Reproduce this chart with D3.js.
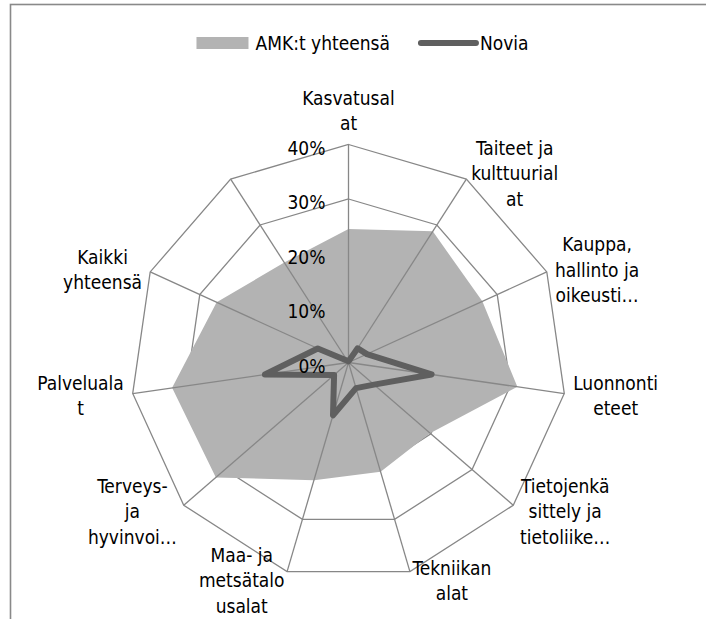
<!DOCTYPE html>
<html>
<head>
<meta charset="utf-8">
<script src="https://cdn.jsdelivr.net/npm/d3@7"></script>
<style>
body{margin:0;background:#fff}
text{font-family:"DejaVu Sans Condensed","Liberation Sans Narrow",sans-serif;font-size:19px;fill:#000}
</style>
</head>
<body>
<svg id="chart"></svg>
<script>
// category labels as Excel wrapped them (last axis has no label)
let categories = [["Kasvatusal","at"],["Taiteet ja","kulttuurial","at"],["Kauppa,","hallinto ja","oikeusti…"],["Luonnonti","eteet"],["Tietojenkä","sittely ja","tietoliike…"],["Tekniikan","alat"],["Maa- ja","metsätalo","usalat"],["Terveys-","ja","hyvinvoi…"],["Palveluala","t"],["Kaikki","yhteensä"],[]];
let amk = [24.5,28.6,27,31.3,19.8,20.9,22.5,32.2,32.7,26.6,21.8];
let novia = [0.2,3.1,3.7,15.4,6.2,4.9,10.1,3.5,15.5,6.2,0.4];
let ticks = [0,10,20,30,40];
let seriesNames = ["AMK:t yhteensä","Novia"];

width = 706;
height = 619;
cx = 348.5;
cy = 362.5;
R = 218;
n = categories.length;
lineH = 25.5;
gridColor = "#878787";
fillColor = "#b3b3b3";
lineColor = "#5f5f5f";

r = d3.scaleLinear().domain([0, 40]).range([0, R]);
angle = d3.scaleLinear().domain([0, n]).range([0, 2 * Math.PI]);

svg = d3.select('#chart').attr('width', width).attr('height', height);

// frame of the chart area (runs off the right and bottom)
svg.append("rect")
    .attr("x", 10.5).attr("y", 4.5)
    .attr("width", 800).attr("height", 800)
    .attr("fill", "none")
    .attr("stroke", "#898989")
    .attr("stroke-width", 1.6);

g = svg.append("g").attr("transform", `translate(${cx},${cy})`);

radial = d3.lineRadial()
    .angle((d, i) => angle(i))
    .radius(d => r(d))
    .curve(d3.curveLinearClosed);

// rings
g.append("g")
    .selectAll("path")
    .data(ticks.filter(t => t > 0))
    .join("path")
    .attr("d", t => radial(d3.range(n).map(() => t)))
    .attr("fill", "none")
    .attr("stroke", gridColor)
    .attr("stroke-width", 1.3);

// AMK area
g.append("path")
    .attr("d", radial(amk))
    .attr("fill", fillColor);

// spokes
g.append("g")
    .selectAll("line")
    .data(d3.range(n))
    .join("line")
    .attr("x1", 0).attr("y1", 0)
    .attr("x2", i => r(40) * Math.sin(angle(i)))
    .attr("y2", i => -r(40) * Math.cos(angle(i)))
    .attr("stroke", gridColor)
    .attr("stroke-width", 1.3);

// Novia line
g.append("path")
    .attr("d", radial(novia))
    .attr("fill", "none")
    .attr("stroke", lineColor)
    .attr("stroke-width", 6)
    .attr("stroke-linejoin", "round");

// tick labels
g.append("g")
    .selectAll("text")
    .data(ticks)
    .join("text")
    .attr("x", -23)
    .attr("y", t => -r(t) + 3)
    .attr("text-anchor", "end")
    .attr("dominant-baseline", "central")
    .text(t => t + "%");

// category labels
categories.forEach((lines, k) => {
    if (!lines.length) return;
    let s = Math.sin(angle(k)), c = Math.cos(angle(k));
    let vx = r(40) * s, vy = -r(40) * c;
    let lg = g.append("g");
    let texts = lg.selectAll("text").data(lines).join("text")
        .attr("text-anchor", "middle")
        .attr("dominant-baseline", "central")
        .text(d => d);
    let w = d3.max(texts.nodes(), t => t.getComputedTextLength());
    let h = lines.length * lineH;
    let bx, by;
    if (Math.abs(s) < 0.1) {
        bx = vx;
        by = vy - h / 2 - 8.5;
    } else {
        bx = vx + Math.sign(s) * w / 2 + s * 9;
        by = vy + 1 - 8 * c;
    }
    texts.attr("x", bx).attr("y", (d, i) => by - h / 2 + lineH * (i + 0.5));
});

// legend
legend = svg.append("g");
legendY = 43;
item1 = legend.append("g");
item1.append("rect").attr("x", 0).attr("y", legendY - 6).attr("width", 52).attr("height", 12).attr("fill", fillColor);
t1 = item1.append("text").attr("x", 59).attr("y", legendY).attr("dominant-baseline", "central").text(seriesNames[0]);
x2 = 59 + t1.node().getComputedTextLength() + 28;
item2 = legend.append("g");
item2.append("line").attr("x1", x2 + 3).attr("x2", x2 + 58).attr("y1", legendY).attr("y2", legendY)
    .attr("stroke", lineColor).attr("stroke-width", 6).attr("stroke-linecap", "round");
t2 = item2.append("text").attr("x", x2 + 62).attr("y", legendY).attr("dominant-baseline", "central").text(seriesNames[1]);
total = x2 + 62 + t2.node().getComputedTextLength();
legend.attr("transform", `translate(${362.5 - total / 2},0)`);
</script>
</body>
</html>
